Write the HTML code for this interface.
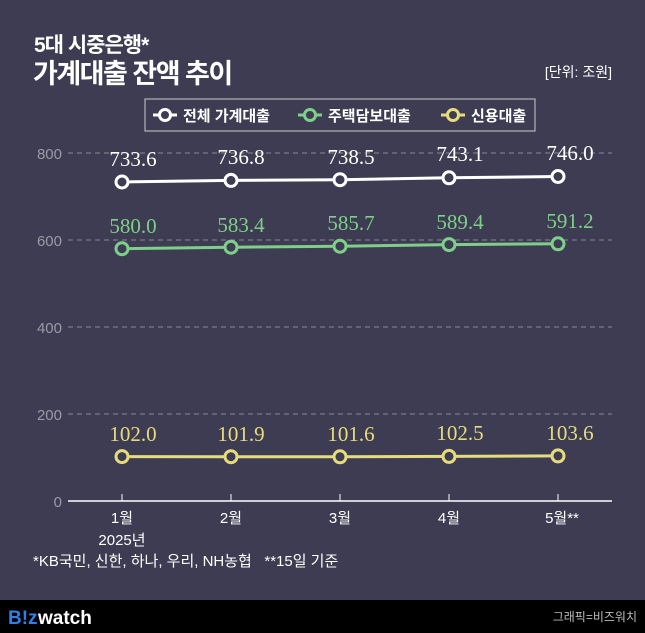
<!DOCTYPE html>
<html><head><meta charset="utf-8"><style>
body{margin:0;width:645px;height:633px;overflow:hidden;background:#3d3c52}
svg{display:block}
text{font-family:"Liberation Sans","Noto Sans CJK KR",sans-serif}
.v{font-family:"Liberation Serif","Noto Serif CJK SC",serif;font-size:21px;text-anchor:middle}
</style></head><body>
<svg width="645" height="633" viewBox="0 0 645 633">
<rect width="645" height="633" fill="#3d3c52"/>
<text x="34" y="52" fill="#fff" font-size="21" font-weight="bold" letter-spacing="-1">5대 시중은행*</text>
<text x="33" y="83" fill="#fff" font-size="27" font-weight="bold" letter-spacing="-1.5">가계대출 잔액 추이</text>
<text x="612" y="77" fill="#fff" font-size="14" text-anchor="end">[단위: 조원]</text>
<rect x="145" y="99" width="390" height="32" fill="none" stroke="#ccc" stroke-width="1"/>
<g stroke-width="3" fill="#3d3c52">
<line x1="153" y1="115" x2="177" y2="115" stroke="#fff"/><circle cx="165" cy="115" r="5.5" stroke="#fff"/>
<line x1="298" y1="115" x2="322" y2="115" stroke="#7fcf8a"/><circle cx="310" cy="115" r="5.5" stroke="#7fcf8a"/>
<line x1="441" y1="115" x2="465" y2="115" stroke="#e6dc7e"/><circle cx="453" cy="115" r="5.5" stroke="#e6dc7e"/>
</g>
<g fill="#fff" font-size="15" font-weight="bold">
<text x="183" y="121">전체 가계대출</text><text x="328" y="121">주택담보대출</text><text x="471" y="121">신용대출</text>
</g>
<g stroke="#8a8a9a" stroke-dasharray="5,4" stroke-width="1">
<line x1="68" y1="153" x2="612" y2="153"/><line x1="68" y1="240" x2="612" y2="240"/>
<line x1="68" y1="327" x2="612" y2="327"/><line x1="68" y1="414" x2="612" y2="414"/>
</g>
<g fill="#9a9aa8" font-size="15" text-anchor="end">
<text x="62" y="159">800</text><text x="62" y="246">600</text><text x="62" y="333">400</text><text x="62" y="420">200</text><text x="62" y="507">0</text>
</g>
<line x1="68" y1="501" x2="612" y2="501" stroke="#fff" stroke-width="1.5"/>
<g stroke="#fff" stroke-width="1"><line x1="122" y1="494" x2="122" y2="501"/><line x1="231" y1="494" x2="231" y2="501"/><line x1="340" y1="494" x2="340" y2="501"/><line x1="449" y1="494" x2="449" y2="501"/><line x1="558" y1="494" x2="558" y2="501"/></g>
<g fill="#fff" font-size="15" text-anchor="middle">
<text x="122" y="523">1월</text><text x="122" y="545">2025년</text><text x="231" y="523">2월</text><text x="340" y="523">3월</text><text x="449" y="523">4월</text><text x="562" y="523">5월**</text>
</g>
<text x="33" y="566" fill="#fff" font-size="15">*KB국민, 신한, 하나, 우리, NH농협 &#160;&#160;**15일 기준</text>
<g fill="#3d3c52" stroke-width="3">
<polyline points="122,182 231,180.4 340,179.7 449,177.8 558,176.5" fill="none" stroke="#fff"/>
<polyline points="122,248.7 231,247.2 340,246.2 449,244.6 558,243.8" fill="none" stroke="#7fcf8a"/>
<polyline points="122,456.6 231,456.7 340,456.8 449,456.4 558,455.9" fill="none" stroke="#e6dc7e"/>
<g stroke="#fff"><circle cx="122" cy="182" r="6"/><circle cx="231" cy="180.4" r="6"/><circle cx="340" cy="179.7" r="6"/><circle cx="449" cy="177.8" r="6"/><circle cx="558" cy="176.5" r="6"/></g>
<g stroke="#7fcf8a"><circle cx="122" cy="248.7" r="6"/><circle cx="231" cy="247.2" r="6"/><circle cx="340" cy="246.2" r="6"/><circle cx="449" cy="244.6" r="6"/><circle cx="558" cy="243.8" r="6"/></g>
<g stroke="#e6dc7e"><circle cx="122" cy="456.6" r="6"/><circle cx="231" cy="456.7" r="6"/><circle cx="340" cy="456.8" r="6"/><circle cx="449" cy="456.4" r="6"/><circle cx="558" cy="455.9" r="6"/></g>
</g>
<g fill="#fff"><text class="v" x="133" y="166">733.6</text><text class="v" x="241" y="164">736.8</text><text class="v" x="351" y="164">738.5</text><text class="v" x="460" y="161">743.1</text><text class="v" x="570" y="160">746.0</text></g>
<g fill="#7fcf8a"><text class="v" x="133" y="233">580.0</text><text class="v" x="241" y="232">583.4</text><text class="v" x="351" y="230">585.7</text><text class="v" x="460" y="229">589.4</text><text class="v" x="570" y="228">591.2</text></g>
<g fill="#e6dc7e"><text class="v" x="133" y="441">102.0</text><text class="v" x="241" y="441">101.9</text><text class="v" x="351" y="441">101.6</text><text class="v" x="460" y="440">102.5</text><text class="v" x="570" y="440">103.6</text></g>
<rect x="0" y="600" width="645" height="33" fill="#000"/>
<text x="8" y="624" font-size="19" font-weight="bold" fill="#2f7fe8">B!z</text>
<text x="38" y="624" font-size="19" font-weight="bold" fill="#fff">watch</text>
<text x="637" y="621" font-size="12" fill="#bbb" text-anchor="end">그래픽=비즈워치</text>
</svg>
</body></html>
